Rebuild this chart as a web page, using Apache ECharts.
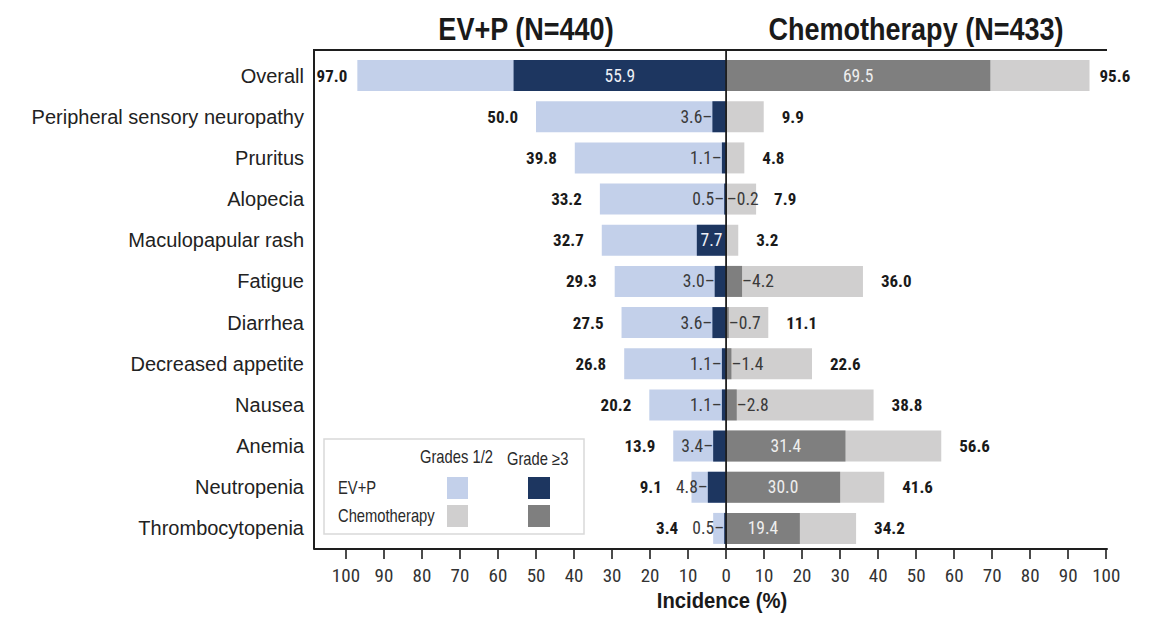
<!DOCTYPE html>
<html><head><meta charset="utf-8">
<script src="https://cdn.jsdelivr.net/npm/echarts@6/dist/echarts.min.js"></script>
<style>html,body{margin:0;padding:0;background:#fff}#c{width:1162px;height:624px}</style>
</head><body><div id="c"></div>
<script>
// ---------- data ----------
const categories = ['Overall','Peripheral sensory neuropathy','Pruritus','Alopecia','Maculopapular rash','Fatigue','Diarrhea','Decreased appetite','Nausea','Anemia','Neutropenia','Thrombocytopenia'];
const evpAny     = [97.0, 50.0, 39.8, 33.2, 32.7, 29.3, 27.5, 26.8, 20.2, 13.9, 9.1, 3.4];
const evpGrade3  = [55.9, 3.6, 1.1, 0.5, 7.7, 3.0, 3.6, 1.1, 1.1, 3.4, 4.8, 0.5];
const chemoAny   = [95.6, 9.9, 4.8, 7.9, 3.2, 36.0, 11.1, 22.6, 38.8, 56.6, 41.6, 34.2];
const chemoGrade3= [69.5, 0, 0, 0.2, 0, 4.2, 0.7, 1.4, 2.8, 31.4, 30.0, 19.4];
const xTickValues = [-100,-90,-80,-70,-60,-50,-40,-30,-20,-10,0,10,20,30,40,50,60,70,80,90,100];
const titles = ['EV+P (N=440)', 'Chemotherapy (N=433)'];
const xAxisTitle = 'Incidence (%)';
const legendCols = ['Grades 1/2', 'Grade \u22653'];
const legendRows = ['EV+P', 'Chemotherapy'];

// ---------- style ----------
const SANS = "'Liberation Sans', Arial, sans-serif";
const COND = "'Roboto Condensed', 'Liberation Sans', sans-serif";
const C = { evLight:'#c3d0ea', evDark:'#1d3660', chLight:'#d0cfcf', chDark:'#7f7f7f', ink:'#1e1e1e' };
const GRID = { left:314, right:55, top:55, bottom:75 };
const X_MIN = -108.4, X_MAX = 100.2;
const INSIDE_MIN = 7;

const chart = echarts.init(document.getElementById('c'), null, { renderer:'svg' });

function baseOption() {
  return {
    backgroundColor:'#ffffff',
    animation:false,
    grid:{ left:GRID.left, right:GRID.right, top:GRID.top, bottom:GRID.bottom, containLabel:false },
    xAxis:{
      type:'value', min:X_MIN, max:X_MAX,
      axisLine:{ show:true, onZero:false, lineStyle:{ color:C.ink, width:2 } },
      axisTick:{ show:true, length:10, customValues:xTickValues, lineStyle:{ color:C.ink, width:1.6 } },
      axisLabel:{ customValues:xTickValues, formatter:v=>String(Math.abs(v)), fontFamily:COND, fontSize:19, color:'#333', margin:17 },
      splitLine:{ show:false }
    },
    yAxis:{
      type:'category', inverse:true, data:categories,
      axisLine:{ show:false }, axisTick:{ show:false },
      axisLabel:{ fontFamily:SANS, fontSize:20, color:'#222', margin:10 }
    },
    series:[]
  };
}
chart.setOption(baseOption());

const k = chart.convertToPixel({ xAxisIndex:0 }, 1) - chart.convertToPixel({ xAxisIndex:0 }, 0);
const x0 = chart.convertToPixel({ xAxisIndex:0 }, 0);
const xL = chart.convertToPixel({ xAxisIndex:0 }, X_MIN);
const xR = chart.convertToPixel({ xAxisIndex:0 }, X_MAX);
const yBot = 624 - GRID.bottom;
const yTop = 50;

const f1 = v => Math.abs(v).toFixed(1);
const valueLabel = { show:true, fontFamily:COND, fontSize:17, fontWeight:'bold', color:'#1a1a1a' };
const g3Label = { show:true, fontFamily:COND, fontSize:17.5, color:'#3a3a3a' };

function anyDistance(total, g3) {
  if (total > 90) return 10;
  const outside = g3 > 0 && g3 < INSIDE_MIN;
  return 18 + (outside ? Math.max(0, k * (g3 - total) + 28) : 0);
}

const evAnyData = evpAny.map((v,i)=>({ value:-v, label:{ distance:anyDistance(v, evpGrade3[i]) } }));
const chAnyData = chemoAny.map((v,i)=>({ value:v, label:{ distance:anyDistance(v, chemoGrade3[i]) } }));
const evG3Data = evpGrade3.map(v=> v >= INSIDE_MIN
  ? { value:-v, label:{ position:'inside', color:'#eef0f6', formatter:f1(v) } }
  : { value:-v, label:{ position:'left', distance:0, formatter:f1(v)+'\u2013' } });
const chG3Data = chemoGrade3.map(v=> v === 0
  ? { value:0, label:{ show:false } }
  : v >= INSIDE_MIN
    ? { value:v, label:{ position:'inside', color:'#eeeeee', formatter:f1(v) } }
    : { value:v, label:{ position:'right', distance:0, formatter:'\u2013'+f1(v) } });

const BW = 31;
const opt = baseOption();
opt.series = [
  { name:'EV+P Grades 1/2', type:'bar', data:evAnyData, barWidth:BW, barGap:'-100%', itemStyle:{ color:C.evLight },
    label:Object.assign({}, valueLabel, { position:'left', formatter:p=>f1(p.value) }), z:2 },
  { name:'Chemotherapy Grades 1/2', type:'bar', data:chAnyData, barWidth:BW, barGap:'-100%', itemStyle:{ color:C.chLight },
    label:Object.assign({}, valueLabel, { position:'right', formatter:p=>f1(p.value) }), z:2 },
  { name:'EV+P Grade \u22653', type:'bar', data:evG3Data, barWidth:BW, barGap:'-100%', itemStyle:{ color:C.evDark },
    label:Object.assign({}, g3Label), z:3 },
  { name:'Chemotherapy Grade \u22653', type:'bar', data:chG3Data, barWidth:BW, barGap:'-100%', itemStyle:{ color:C.chDark },
    label:Object.assign({}, g3Label), z:3 }
];

const txt = (x,y,text,size,weight,align,color,sx)=>({ type:'text', x, y, z:10, scaleX:sx,
  style:{ text, fontFamily:SANS, fontSize:size, fontWeight:weight||'normal', fill:color||'#1a1a1a', align:align||'left', verticalAlign:'middle' } });

opt.graphic = [
  { type:'polyline', z:5, shape:{ points:[[xR,yTop],[xL,yTop],[xL,yBot]] }, style:{ stroke:C.ink, lineWidth:2, fill:null } },
  { type:'line', z:6, shape:{ x1:x0, y1:yTop, x2:x0, y2:yBot }, style:{ stroke:C.ink, lineWidth:1.8 } },
  txt(526, 29, titles[0], 32, 'bold', 'center', '#1a1a1a', 0.845),
  txt(916, 29, titles[1], 32, 'bold', 'center', '#1a1a1a', 0.845),
  txt(722, 601, xAxisTitle, 22.5, 'bold', 'center', '#1a1a1a', 0.9),
  // legend box
  { type:'rect', z:7, shape:{ x:324, y:439, width:260, height:95 }, style:{ fill:'#ffffff', stroke:'#d9d9d9', lineWidth:1.5 } },
  txt(420, 456, legendCols[0], 18, 'normal', 'left', '#2a2a2a', 0.82),
  txt(507, 458, legendCols[1], 18, 'normal', 'left', '#2a2a2a', 0.82),
  txt(338, 487, legendRows[0], 18, 'normal', 'left', '#2a2a2a', 0.82),
  txt(338, 515, legendRows[1], 18, 'normal', 'left', '#2a2a2a', 0.82),
  { type:'rect', z:8, shape:{ x:447, y:477, width:21, height:22 }, style:{ fill:C.evLight } },
  { type:'rect', z:8, shape:{ x:528, y:477, width:22, height:22 }, style:{ fill:C.evDark } },
  { type:'rect', z:8, shape:{ x:447, y:505, width:21, height:22 }, style:{ fill:C.chLight } },
  { type:'rect', z:8, shape:{ x:528, y:505, width:22, height:22 }, style:{ fill:C.chDark } }
];
chart.setOption(opt, true);
</script>
</body></html>
